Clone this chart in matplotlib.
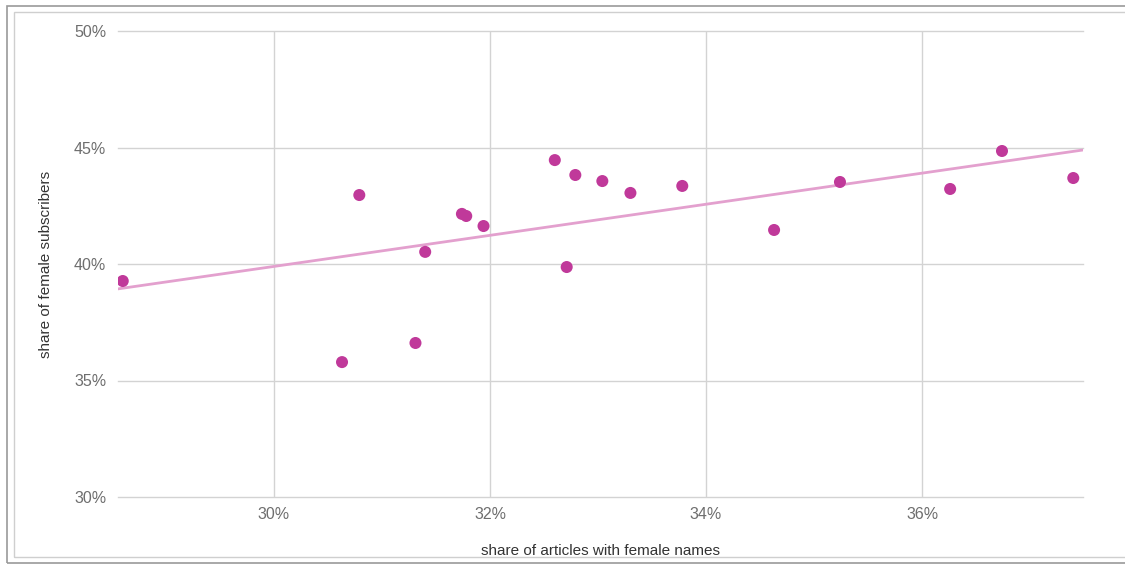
import numpy as np
import matplotlib
matplotlib.use("Agg")
import matplotlib.pyplot as plt
from matplotlib.patches import Rectangle

# share of articles with female names (%) vs share of female subscribers (%)
artigos_fem = [28.60, 30.63, 30.79, 31.31, 31.40, 31.74, 31.78, 31.94, 32.60, 32.71,
               32.79, 33.04, 33.30, 33.78, 34.63, 35.24, 36.26, 36.74, 37.40]
assin_fem = [39.27, 35.79, 42.96, 36.61, 40.52, 42.15, 42.06, 41.63, 44.46, 39.87,
             43.82, 43.56, 43.05, 43.35, 41.46, 43.52, 43.22, 44.85, 43.69]

x_ticks = [30, 32, 34, 36]
y_ticks = [30, 35, 40, 45, 50]
x_lim = (28.556, 37.49)
y_lim = (30, 50)

COR_PONTO = "#C0399A"
COR_LINHA = "#E3A0CE"
COR_GRADE = "#D3D3D3"
COR_TEXTO = "#6E6E6E"

plt.rcParams["font.family"] = ["Liberation Sans", "DejaVu Sans"]

fig = plt.figure(figsize=(11.25, 5.65), dpi=100)
ax = fig.add_axes([118/1125, 1 - 497/565, (1083-118)/1125, (497-31)/565])

# moldura do screenshot
fig.patches.append(Rectangle((7/1125, 1 - 563/565), 1.2, 557/565,
                             transform=fig.transFigure, fill=False, ec="#9A9A9A", lw=1.2))
fig.patches.append(Rectangle((14/1125, 1 - 557/565), 1.2, 545/565,
                             transform=fig.transFigure, fill=False, ec="#CFCFCF", lw=1.0))

ax.set_xlim(*x_lim); ax.set_ylim(*y_lim)
ax.set_xticks(x_ticks); ax.set_yticks(y_ticks)
ax.set_xticklabels([f"{t}%" for t in x_ticks])
ax.set_yticklabels([f"{t}%" for t in y_ticks])
ax.grid(True, color=COR_GRADE, lw=1.0)
for gl in ax.get_ygridlines():
    gl.set_clip_on(False)
ax.set_axisbelow(True)
for s in ax.spines.values():
    s.set_visible(False)
ax.tick_params(length=0, labelsize=11.5, labelcolor=COR_TEXTO)
ax.tick_params(axis="y", pad=8.5)
ax.tick_params(axis="x", pad=7)

# linha de tendência
a, b = np.polyfit(artigos_fem, assin_fem, 1)
xs = np.array(x_lim)
ax.plot(xs, a*xs + b, color=COR_LINHA, lw=2, zorder=2)

ax.scatter(artigos_fem, assin_fem, s=75, color=COR_PONTO, edgecolors="none", zorder=3)

ax.set_xlabel("share of articles with female names", fontsize=11, color="#333333", labelpad=16)
ax.set_ylabel("share of female subscribers", fontsize=11, color="#333333", labelpad=15)

fig.savefig("out.png", dpi=100)
